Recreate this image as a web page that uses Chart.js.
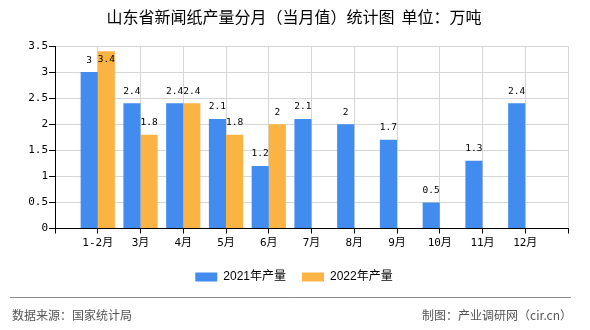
<!DOCTYPE html>
<html lang="zh">
<head>
  <meta charset="UTF-8">
  <title>山东省新闻纸产量分月（当月值）统计图</title>
  <script src="https://cdn.jsdelivr.net/npm/chart.js"></script>
  <style>
    html, body {
      margin: 0;
      padding: 0;
      background: #ffffff;
    }
    #wrap {
      width: 590px;
      height: 330px;
      position: relative;
    }
  </style>
</head>
<body>
  <div id="wrap">
    <canvas id="paperChart"></canvas>
  </div>

  <script>
    // chart data
    const months = ["1-2月", "3月", "4月", "5月", "6月", "7月", "8月", "9月", "10月", "11月", "12月"];
    const output2021 = [3, 2.4, 2.4, 2.1, 1.2, 2.1, 2, 1.7, 0.5, 1.3, 2.4];
    const output2022 = [3.4, 1.8, 2.4, 1.8, 2, null, null, null, null, null, null];
    const yTicks = [0, 0.5, 1, 1.5, 2, 2.5, 3, 3.5];

    // axis has an empty slot at each end
    const labels = [""].concat(months, [""]);
    const pad = arr => [null].concat(arr, [null]);

    const monoFont = "'DejaVu Sans Mono', 'Noto Sans CJK SC', monospace";
    const cjkFont = "'Noto Sans CJK SC', 'DejaVu Sans', sans-serif";

    // value labels above the bars
    const valueLabels = {
      id: "valueLabels",
      afterDatasetsDraw(chart) {
        const ctx = chart.ctx;
        const top = chart.chartArea.top;
        ctx.save();
        ctx.font = "9.5px " + monoFont;
        ctx.fillStyle = "#000";
        ctx.textAlign = "center";
        ctx.textBaseline = "middle";
        chart.data.datasets.forEach((ds, i) => {
          chart.getDatasetMeta(i).data.forEach((bar, j) => {
            const v = ds.data[j];
            if (v === null || v === undefined) return;
            const y = Math.max(bar.y - 12, top + 14);
            ctx.fillText(String(v), bar.x, y);
          });
        });
        ctx.restore();
      }
    };

    // source line at the bottom
    const footer = {
      id: "footer",
      afterDraw(chart) {
        const ctx = chart.ctx;
        ctx.save();
        ctx.strokeStyle = "#8a8a8a";
        ctx.lineWidth = 1;
        ctx.beginPath();
        ctx.moveTo(10, 297.5);
        ctx.lineTo(571, 297.5);
        ctx.stroke();
        ctx.font = "12px " + cjkFont;
        ctx.fillStyle = "#555";
        ctx.textBaseline = "middle";
        ctx.textAlign = "left";
        ctx.fillText("数据来源：国家统计局", 12, 315);
        ctx.textAlign = "right";
        ctx.fillText("制图：产业调研网（cir.cn）", 572, 315);
        ctx.restore();
      }
    };

    new Chart(document.getElementById("paperChart"), {
      type: "bar",
      data: {
        labels: labels,
        datasets: [
          {
            label: "2021年产量",
            data: pad(output2021),
            backgroundColor: "#428bef",
            categoryPercentage: 0.8,
            barPercentage: 1.0
          },
          {
            label: "2022年产量",
            data: pad(output2022),
            backgroundColor: "#fbb344",
            categoryPercentage: 0.8,
            barPercentage: 1.0
          }
        ]
      },
      options: {
        responsive: true,
        maintainAspectRatio: false,
        animation: false,
        layout: {
          padding: { left: 20, right: 22, top: 0, bottom: 37 }
        },
        plugins: {
          title: {
            display: true,
            text: "山东省新闻纸产量分月（当月值）统计图  单位：万吨",
            color: "#000",
            font: { family: cjkFont, size: 16, weight: "normal" },
            padding: { top: 7, bottom: 19.8 }
          },
          legend: {
            position: "bottom",
            labels: {
              boxWidth: 22,
              boxHeight: 9,
              padding: 16,
              color: "#000",
              font: { family: "'Liberation Sans', 'Noto Sans CJK SC', sans-serif", size: 12 }
            }
          },
          tooltip: { enabled: false }
        },
        scales: {
          x: {
            offset: false,
            afterFit(scale) { scale.height = 26.5; },
            grid: {
              offset: false,
              color: "#d6d6d6",
              tickColor: "#000",
              tickLength: 5
            },
            border: { color: "#000" },
            ticks: {
              autoSkip: false,
              maxRotation: 0,
              color: "#000",
              padding: 3,
              font: { family: monoFont, size: 11 }
            }
          },
          y: {
            min: 0,
            max: 3.5,
            afterFit(scale) { scale.width = 35; },
            afterBuildTicks(scale) {
              scale.ticks = yTicks.map(v => ({ value: v }));
            },
            grid: {
              color: "#d6d6d6",
              tickColor: "#000",
              tickLength: 6
            },
            border: { color: "#000" },
            ticks: {
              color: "#000",
              padding: 1,
              font: { family: monoFont, size: 11 },
              callback: v => String(v)
            }
          }
        }
      },
      plugins: [valueLabels, footer]
    });
  </script>
</body>
</html>
